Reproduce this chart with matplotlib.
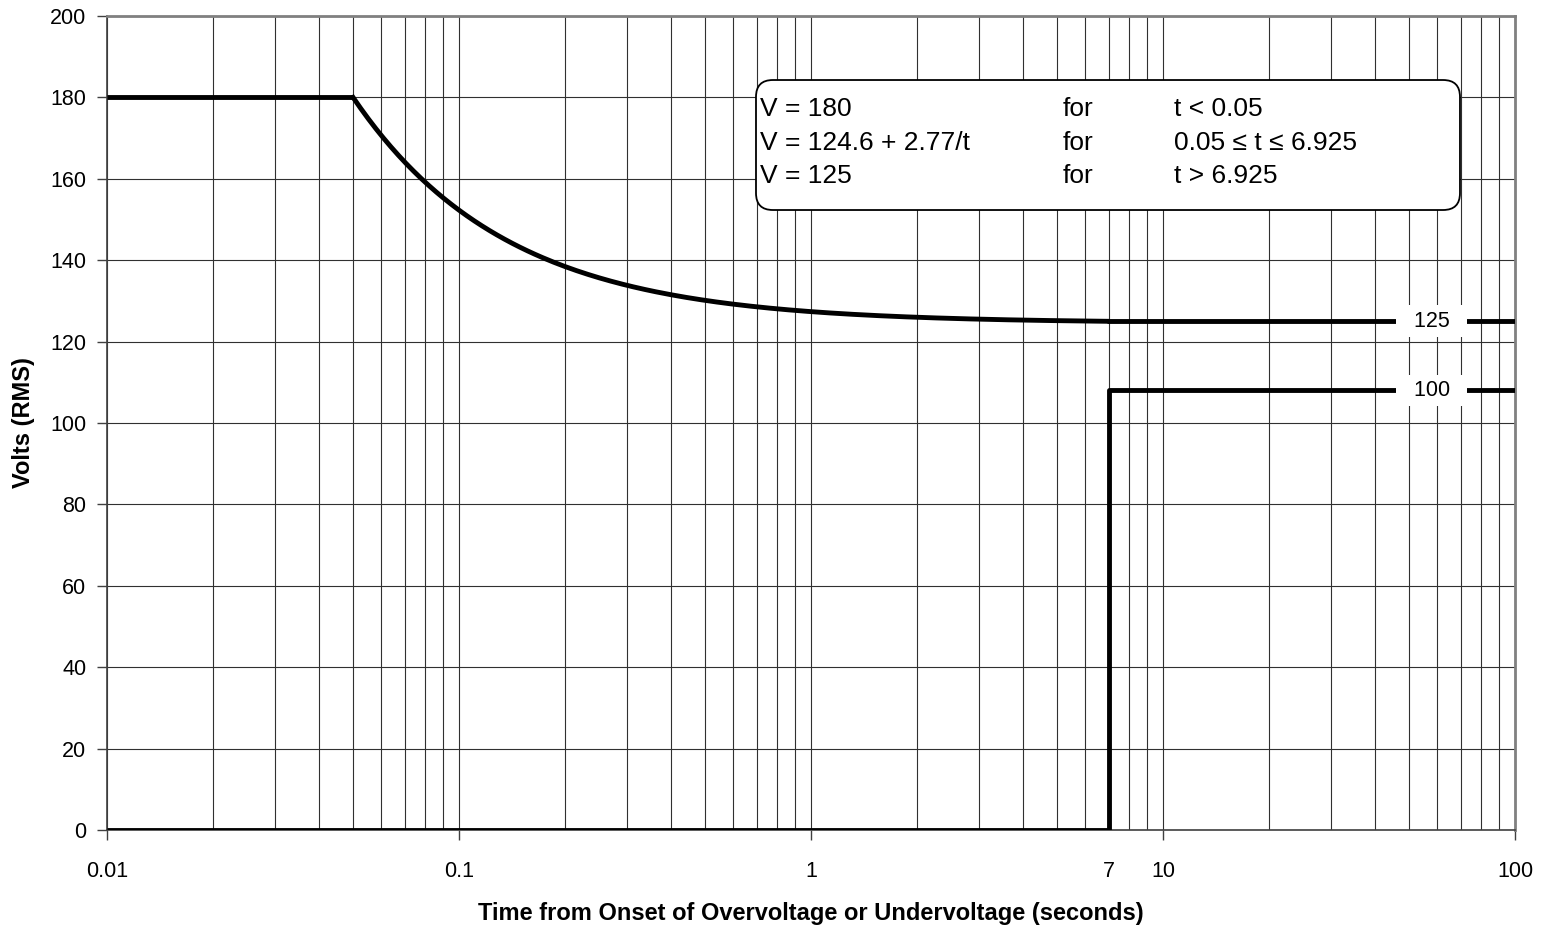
import numpy as np
import matplotlib.pyplot as plt
from matplotlib.patches import FancyBboxPatch

plt.rcParams['font.family'] = ['Liberation Sans', 'DejaVu Sans']

# upper limit (overvoltage) curve
t_flat = [0.01, 0.05]
v_flat = [180, 180]
t_curve = np.logspace(np.log10(0.05), np.log10(6.925), 200)
v_curve = 124.6 + 2.77 / t_curve
t_tail = [6.925, 100]
v_tail = [125, 125]

# lower limit (undervoltage) step
t_low = [0.01, 7, 7, 100]
v_low = [0, 0, 108, 108]

xticks = [0.01, 0.1, 1, 7, 10, 100]
xticklabels = ['0.01', '0.1', '1', '7', '10', '100']
yticks = list(range(0, 201, 20))

line_labels = ['125', '100']
line_label_y = [125, 108]
line_label_x = 58

box_lines = [('V = 180', 'for', 't < 0.05'),
             ('V = 124.6 + 2.77/t', 'for', '0.05 \u2264 t \u2264 6.925'),
             ('V = 125', 'for', 't > 6.925')]

fig = plt.figure(figsize=(15.45, 9.32), dpi=100)
ax = fig.add_axes([0.0693, 0.1094, 0.9113, 0.8734])

ax.set_xscale('log')
ax.set_xlim(0.01, 100)
ax.set_ylim(0, 200)

ax.plot(t_flat, v_flat, color='black', lw=3.5, solid_capstyle='butt', zorder=3)
ax.plot(t_curve, v_curve, color='black', lw=3.5, zorder=3)
ax.plot(t_tail, v_tail, color='black', lw=3.5, solid_capstyle='butt', zorder=3)
ax.plot(t_low, v_low, color='black', lw=3.5, solid_capstyle='butt', zorder=3)

ax.set_xticks(xticks)
ax.set_xticklabels(xticklabels)
ax.set_yticks(yticks)
ax.xaxis.set_minor_locator(plt.LogLocator(base=10, subs=np.arange(2, 10)))
ax.xaxis.set_minor_formatter(plt.NullFormatter())
ax.tick_params(axis='both', which='major', labelsize=15.5, direction='out',
               length=7, width=1, color='#404040')
ax.tick_params(axis='x', which='major', pad=15)
ax.tick_params(axis='y', which='major', pad=8)
ax.tick_params(axis='x', which='minor', length=0)
ax.xaxis.get_major_ticks()[3].tick1line.set_visible(False)
ax.grid(True, which='both', axis='x', color='#303030', lw=0.8)
ax.grid(True, which='major', axis='y', color='#303030', lw=0.8)
for s in ['top', 'right']:
    ax.spines[s].set_color('#808080')
    ax.spines[s].set_linewidth(2)
for s in ['left', 'bottom']:
    ax.spines[s].set_color('#404040')
    ax.spines[s].set_linewidth(1.2)

ax.set_xlabel('Time from Onset of Overvoltage or Undervoltage (seconds)',
              fontsize=17, fontweight='bold', labelpad=15)
ax.set_ylabel('Volts (RMS)', fontsize=17, fontweight='bold', labelpad=11)

# line labels
for lab, yv in zip(line_labels, line_label_y):
    ax.text(line_label_x, yv, '  ' + lab + '  ', fontsize=15.5, ha='center',
            va='center', zorder=5,
            bbox=dict(boxstyle='square,pad=0.25', fc='white', ec='none'))

# equation box
box = FancyBboxPatch((0.4609, 0.7617), 0.5, 0.1597,
                     boxstyle='round,pad=0,rounding_size=0.012',
                     transform=ax.transAxes, fc='white', ec='black', lw=1.3,
                     zorder=6, mutation_aspect=1408 / 814)
ax.add_patch(box)
rows_y = [0.8771, 0.8360, 0.7948]
for (a, b, c), yy in zip(box_lines, rows_y):
    ax.text(0.4638, yy, a, transform=ax.transAxes, fontsize=19, va='baseline', zorder=7)
    ax.text(0.679, yy, b, transform=ax.transAxes, fontsize=19, va='baseline', zorder=7)
    ax.text(0.7578, yy, c, transform=ax.transAxes, fontsize=19, va='baseline', zorder=7)

fig.savefig('out.png', dpi=100)
